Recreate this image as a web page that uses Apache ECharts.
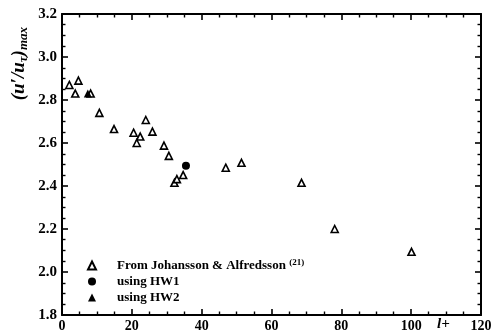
<!DOCTYPE html>
<html><head><meta charset="utf-8">
<script src="https://cdn.jsdelivr.net/npm/echarts@6/dist/echarts.min.js"></script>
<style>html,body{margin:0;padding:0;background:#fff}#c{width:495px;height:335px}</style>
</head><body><div id="c"></div>
<script>
var johanssonX = [2.1, 3.8, 4.7, 8.2, 10.7, 14.9, 20.5, 21.4, 22.4, 24.0, 25.9, 29.2, 30.6, 32.2, 32.9, 34.7, 46.9, 51.4, 68.6, 78.1, 100.1];
var johanssonY = [2.87, 2.83, 2.89, 2.83, 2.74, 2.665, 2.648, 2.60, 2.63, 2.707, 2.653, 2.588, 2.54, 2.415, 2.432, 2.451, 2.485, 2.508, 2.415, 2.20, 2.094];
var hw1X = [35.5];
var hw1Y = [2.494];
var hw2X = [7.4];
var hw2Y = [2.83];
var xTicks = [0, 20, 40, 60, 80, 100, 120];
var yTicks = [1.8, 2.0, 2.2, 2.4, 2.6, 2.8, 3.0, 3.2];
var legendNames = ['From Johansson & Alfredsson', 'using HW1', 'using HW2'];

function pairs(xs, ys){ return xs.map(function(x,i){return [x, ys[i]];}); }
var font = '"Liberation Serif", "DejaVu Serif", serif';
var chart = echarts.init(document.getElementById('c'), null, {renderer:'canvas'});
function axisCommon(extra){
  var o = {
    axisLine:{show:true, onZero:false, lineStyle:{color:'#000', width:2}},
    axisTick:{show:true, inside:true, length:6, lineStyle:{color:'#000', width:1.6}},
    minorTick:{show:true, splitNumber:4, length:3.5, lineStyle:{color:'#000', width:1.4}},
    splitLine:{show:false}
  };
  for (var k in extra) o[k] = extra[k];
  return o;
}
chart.setOption({
  animation:false,
  backgroundColor:'#fff',
  grid:{left:62, top:14, right:14, bottom:20, containLabel:false},
  xAxis:[
    axisCommon({type:'value', gridIndex:0, min:xTicks[0], max:xTicks[xTicks.length-1], interval:20, position:'bottom',
      axisLabel:{show:true, color:'#000', fontFamily:font, fontSize:14, fontWeight:'bold', margin:4}}),
    axisCommon({type:'value', gridIndex:0, min:xTicks[0], max:xTicks[xTicks.length-1], interval:20, position:'top',
      axisLabel:{show:false}})
  ],
  yAxis:[
    axisCommon({type:'value', gridIndex:0, min:yTicks[0], max:yTicks[yTicks.length-1], interval:0.2, position:'left',
      axisLabel:{show:true, color:'#000', fontFamily:font, fontSize:15, fontWeight:'bold', margin:5,
        formatter:function(v){return v.toFixed(1);}}}),
    axisCommon({type:'value', gridIndex:0, min:yTicks[0], max:yTicks[yTicks.length-1], interval:0.2, position:'right',
      axisLabel:{show:false}})
  ],
  legend:{
    orient:'vertical', left:82, top:253, itemWidth:8, itemHeight:8, itemGap:3,
    data:legendNames,
    textStyle:{color:'#000', fontFamily:font, fontSize:13, fontWeight:'bold', padding:[0,0,0,16],
      rich:{s:{fontSize:9, fontFamily:font, fontWeight:'bold', verticalAlign:'top', padding:[0,0,6,0]},
            n:{fontSize:13, fontFamily:font, fontWeight:'bold'}}},
    formatter:function(n){ return n === legendNames[0] ? '{n|' + n + ' }{s|(21)}' : n; }
  },
  graphic:[
    {type:'text', left:10, top:27, rotation:Math.PI/2, style:{
      text:'(u\u2032/u{sub|\u03c4}){sub|max}', fill:'#000',
      font:'italic bold 19px ' + font,
      rich:{sub:{font:'italic bold 13px ' + font, padding:[9,0,0,0]}}
    }},
    {type:'text', left:437, top:317, style:{text:'l+', fill:'#000', font:'italic bold 15px ' + font}}
  ],
  series:[
    {name:legendNames[0], type:'scatter', data:pairs(johanssonX, johanssonY), symbol:'triangle', symbolSize:7,
      itemStyle:{color:'#fff', borderColor:'#000', borderWidth:1.6, opacity:1}},
    {name:legendNames[1], type:'scatter', data:pairs(hw1X, hw1Y), symbol:'circle', symbolSize:8,
      itemStyle:{color:'#000', opacity:1}},
    {name:legendNames[2], type:'scatter', data:pairs(hw2X, hw2Y), symbol:'triangle', symbolSize:8,
      itemStyle:{color:'#000', opacity:1}}
  ]
});
</script></body></html>
